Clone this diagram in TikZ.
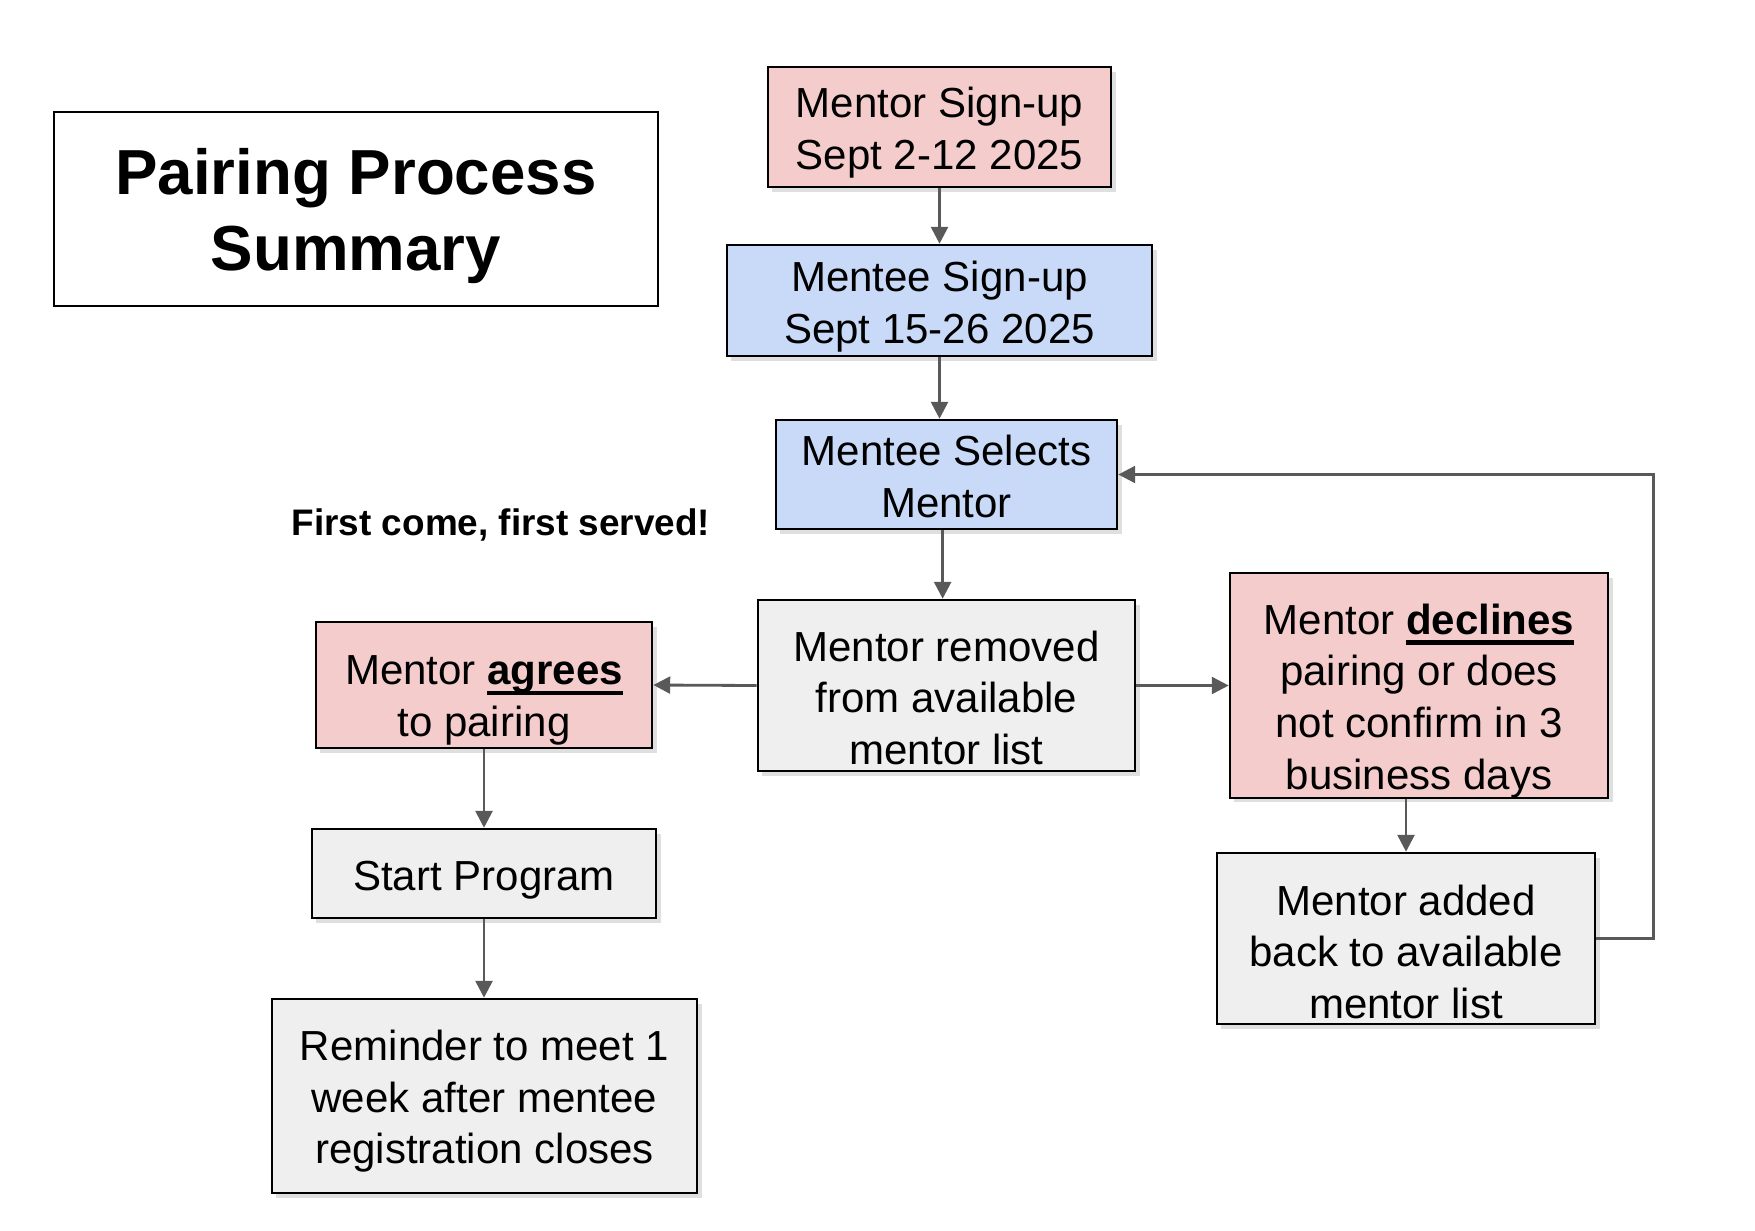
\documentclass[tikz,border=0pt]{standalone}
\usepackage{fontspec}
\setmainfont{Liberation Sans}
\usetikzlibrary{arrows.meta,shapes,positioning,calc,shadows}

\definecolor{signuppink}{HTML}{F4CCCC}
\definecolor{menteeblue}{HTML}{C9DAF8}
\definecolor{listgrey}{HTML}{EFEFEF}
\definecolor{arrowgrey}{HTML}{595959}

\newcommand{\boxfont}{\fontsize{11.95}{14.7}\selectfont}
\newsavebox{\kwbox}
\newcommand{\keyword}[1]{\sbox{\kwbox}{\textbf{#1}}\rlap{\rule[-3pt]{\wd\kwbox}{1.2pt}}\usebox{\kwbox}}
% strut on the first line pushes the text block down inside its box
\newcommand{\lowerby}[1]{\rule{0pt}{\dimexpr8.8pt+#1\relax}}

\begin{document}
\begin{tikzpicture}[x=0.01cm, y=-0.01cm,
    >={Triangle[length=4.8pt,width=4.8pt]},
    stepbox/.style={draw=black, line width=0.7pt, align=center, inner sep=0pt, font=\boxfont,
        drop shadow={shadow xshift=1.3pt, shadow yshift=-1.3pt, opacity=0.25}},
    pinkbox/.style={stepbox, fill=signuppink},
    bluebox/.style={stepbox, fill=menteeblue},
    greybox/.style={stepbox, fill=listgrey},
    titlebox/.style={draw=black, line width=0.7pt, fill=white, align=center,
        font=\fontsize{18.1}{21.6}\selectfont\bfseries},
    link/.style={->, draw=arrowgrey, line width=0.8pt}]
    \useasboundingbox (0,0) rectangle (1755,1230);

    % Title
    \node[titlebox, minimum width=6.04cm, minimum height=1.94cm] (title) at (356,209) {\rule{0pt}{17.2pt}Pairing Process\\Summary};
    \node[font=\fontsize{10.5}{12}\selectfont\bfseries] (firstcome) at (501,525) {First come, first served!};

    % Sign-up
    \node[pinkbox, minimum width=3.43cm, minimum height=1.2cm] (mentorsignup) at (939.5,127) {\lowerby{3.1pt}Mentor Sign-up\\Sept 2-12 2025};
    \node[bluebox, minimum width=4.25cm, minimum height=1.11cm] (menteesignup) at (939.5,300.5) {\lowerby{3.2pt}Mentee Sign-up\\Sept 15-26 2025};
    \node[bluebox, minimum width=3.41cm, minimum height=1.09cm] (selects) at (946.5,474.5) {\lowerby{1.1pt}Mentee Selects\\Mentor};
    \node[greybox, minimum width=3.77cm, minimum height=1.71cm] (removed) at (946.5,685.5) {\lowerby{6.8pt}Mentor removed\\from available\\mentor list};

    % Outcomes
    \node[pinkbox, minimum width=3.36cm, minimum height=1.26cm] (agrees) at (484,685) {\lowerby{8.2pt}Mentor \keyword{agrees}\\to pairing};
    \node[greybox, minimum width=3.44cm, minimum height=0.89cm] (start) at (484,873.5) {\lowerby{3.2pt}Start Program};
    \node[greybox, minimum width=4.25cm, minimum height=1.94cm] (reminder) at (484.5,1096) {\lowerby{2.8pt}Reminder to meet 1\\week after mentee\\registration closes};
    \node[pinkbox, minimum width=3.78cm, minimum height=2.23cm] (declines) at (1419,685.5) {\lowerby{8.5pt}Mentor \keyword{declines}\\pairing or does\\not confirm in 3\\business days};
    \node[greybox, minimum width=3.78cm, minimum height=1.71cm] (addedback) at (1406,938.5) {\lowerby{7.4pt}Mentor added\\back to available\\mentor list};

    % Connectors
    \draw[link] (mentorsignup.south) -- (mentorsignup.south |- menteesignup.north);
    \draw[link] (menteesignup.south) -- (menteesignup.south |- selects.north);
    \draw[link] ([xshift=-1.1pt]selects.south) -- ([xshift=-1.1pt]removed.north);
    \draw[link] (removed.west) -- (agrees.east);
    \draw[link] (removed.east) -- (declines.west);
    \draw[link] (agrees.south) -- (start.north);
    \draw[link] (start.south) -- (start.south |- reminder.north);
    \draw[link] (addedback.north |- declines.south) -- (addedback.north);
    \draw[link] (addedback.east) -- ++(57,0) |- (selects.east);
\end{tikzpicture}
\end{document}
